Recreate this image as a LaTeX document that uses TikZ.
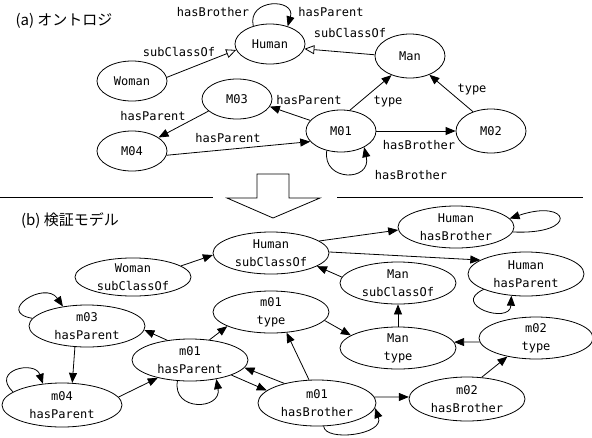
\documentclass[tikz,border=0pt]{standalone}
\usepackage{fontspec}
\setmonofont{DejaVu Sans Mono}
\newfontfamily\jpfont{Noto Sans CJK JP}
\usetikzlibrary{arrows.meta,shapes.geometric}
\begin{document}
\begin{tikzpicture}[x=1pt,y=-1pt,
  lbl/.style={font=\ttfamily\fontsize{12}{14}\selectfont, inner sep=0},
  ttl/.style={font=\jpfont\fontsize{15}{18}\selectfont, inner sep=0},
  ent/.style={draw, ellipse, line width=0.8pt, minimum width=70pt, minimum height=40pt, inner sep=0, font=\ttfamily\fontsize{12}{14}\selectfont},
  st/.style={draw, ellipse, line width=0.8pt, minimum width=116pt, minimum height=42pt, inner sep=0, align=center, font=\ttfamily\fontsize{12}{18}\selectfont},
  edge/.style={line width=0.8pt, -{Triangle[length=10pt,width=8pt]}},
  gen/.style={line width=0.8pt, -{Triangle[open,length=10pt,width=9pt,fill=white]}},
  sep/.style={line width=0.8pt},
]
\useasboundingbox (0,0) rectangle (592,437);

% ---------- (a) ontology ----------
\node[ttl] (ta) at (64,21) {(a) オントロジ};
\node[ent] (Human) at (270,44) {Human};
\node[ent] (Woman) at (132,81) {Woman};
\node[ent, minimum height=44pt] (Man) at (410,56) {Man};
\node[ent] (M03) at (237,99) {M03};
\node[ent] (M04) at (132,151) {M04};
\node[ent, minimum height=42pt] (M01) at (341,131) {M01};
\node[ent, minimum height=44pt] (M02) at (491,131) {M02};

\draw[gen] (Woman.6) -- (Human.190);
\node[lbl] (l1) at (179,52) {subClassOf};
\draw[gen] (Man.178) -- (Human.352);
\node[lbl] (l2) at (350,33) {subClassOf};
\draw[edge] (Human.133) .. controls (247,-2) and (296,-2) .. (Human.45);
\node[lbl] (l3) at (213,12) {hasBrother};
\node[lbl] (l4) at (331,12) {hasParent};
\draw[edge] (M01.161) -- (M03.347);
\node[lbl] (l5) at (309,100) {hasParent};
\draw[edge] (M03.203) -- (M04.27);
\node[lbl] (l6) at (153,116) {hasParent};
\draw[edge] (M04.353) -- (M01.199);
\node[lbl] (l7) at (228,138) {hasParent};
\draw[edge] (M01.67) -- (Man.226);
\node[lbl] (l8) at (388,102) {type};
\draw[edge] (M02.133) -- (Man.316);
\node[lbl] (l9) at (472,90) {type};
\draw[edge] (M01.0) -- (M02.180);
\node[lbl] (l10) at (419,145) {hasBrother};
\draw[edge] (M01.234) .. controls (322,182) and (372,182) .. (M01.325);
\node[lbl] (l11) at (411,175) {hasBrother};

% ---------- separator ----------
\coordinate (s1) at (0,197);
\coordinate (s2) at (213,197);
\coordinate (s3) at (337,197);
\coordinate (s4) at (583,197);
\draw[sep] (s1) -- (s2);
\draw[sep] (s3) -- (s4);
\draw[sep, fill=white] (257,174) -- (289,174) -- (289,198) -- (320,198) -- (273,218) -- (227,198) -- (257,198) -- cycle;

% ---------- (b) model ----------
\node[ttl] (tb) at (70,221) {(b) 検証モデル};
\node[st] (HSC) at (271,253) {Human\\subClassOf};
\node[st, minimum height=38pt] (WSC) at (133,277) {Woman\\subClassOf};
\node[st] (HHB) at (456,227) {Human\\hasBrother};
\node[st, minimum height=44pt] (HHP) at (526,274) {Human\\hasParent};
\node[st] (MSC) at (398,283) {Man\\subClassOf};
\node[st] (m03P) at (87,326) {m03\\hasParent};
\node[st] (m01T) at (271,312) {m01\\type};
\node[st] (m01P) at (190,360) {m01\\hasParent};
\node[st, minimum width=120pt, minimum height=44pt] (m04P) at (62,405) {m04\\hasParent};
\node[st] (ManT) at (398,348) {Man\\type};
\node[st, minimum width=114pt] (m02T) at (536,338) {m02\\type};
\node[st, minimum width=118pt, minimum height=46pt] (m01B) at (317,403) {m01\\hasBrother};
\node[st, minimum height=44pt] (m02B) at (467,399) {m02\\hasBrother};

\draw[edge] (WSC.13) -- (HSC.182);
\draw[edge] (HSC.14) -- (HHB.183);
\draw[edge] (HSC.1) -- (HHP.163);
\draw[edge] (MSC.174) -- (HSC.344);
\draw[edge] (HHB.355) .. controls (580,235) and (570,198) .. (HHB.9);
\draw[edge] (HHP.200) .. controls (450,305) and (510,325) .. (HHP.236);
\draw[edge] (ManT.90) -- (MSC.270);
\draw[edge] (m02T.184) -- (ManT.6);
\draw[edge] (m02B.56) -- (m02T.213);
\draw[edge] (m01B.6) -- (m02B.178);
\draw[edge] (m01B.286) .. controls (325,442) and (385,435) .. (m01B.355);
\draw[edge] (m01B.109) -- (m01T.307);
\draw[edge] (m01B.149) -- (m01P.352);
\draw[edge] (m01P.340) -- (m01B.166);
\draw[edge] (m01P.239) .. controls (172,412) and (222,410) .. (m01P.324);
\draw[edge] (m01P.46) -- (m01T.198);
\draw[edge] (m01T.351) -- (ManT.165);
\draw[edge] (m01P.139) -- (m03P.356);
\draw[edge] (m03P.240) -- (m04P.65);
\draw[edge] (m04P.8) -- (m01P.209);
\draw[edge] (m03P.172) .. controls (-5,312) and (45,280) .. (m03P.141);
\draw[edge] (m04P.165) .. controls (-10,370) and (35,360) .. (m04P.132);
\end{tikzpicture}
\end{document}
